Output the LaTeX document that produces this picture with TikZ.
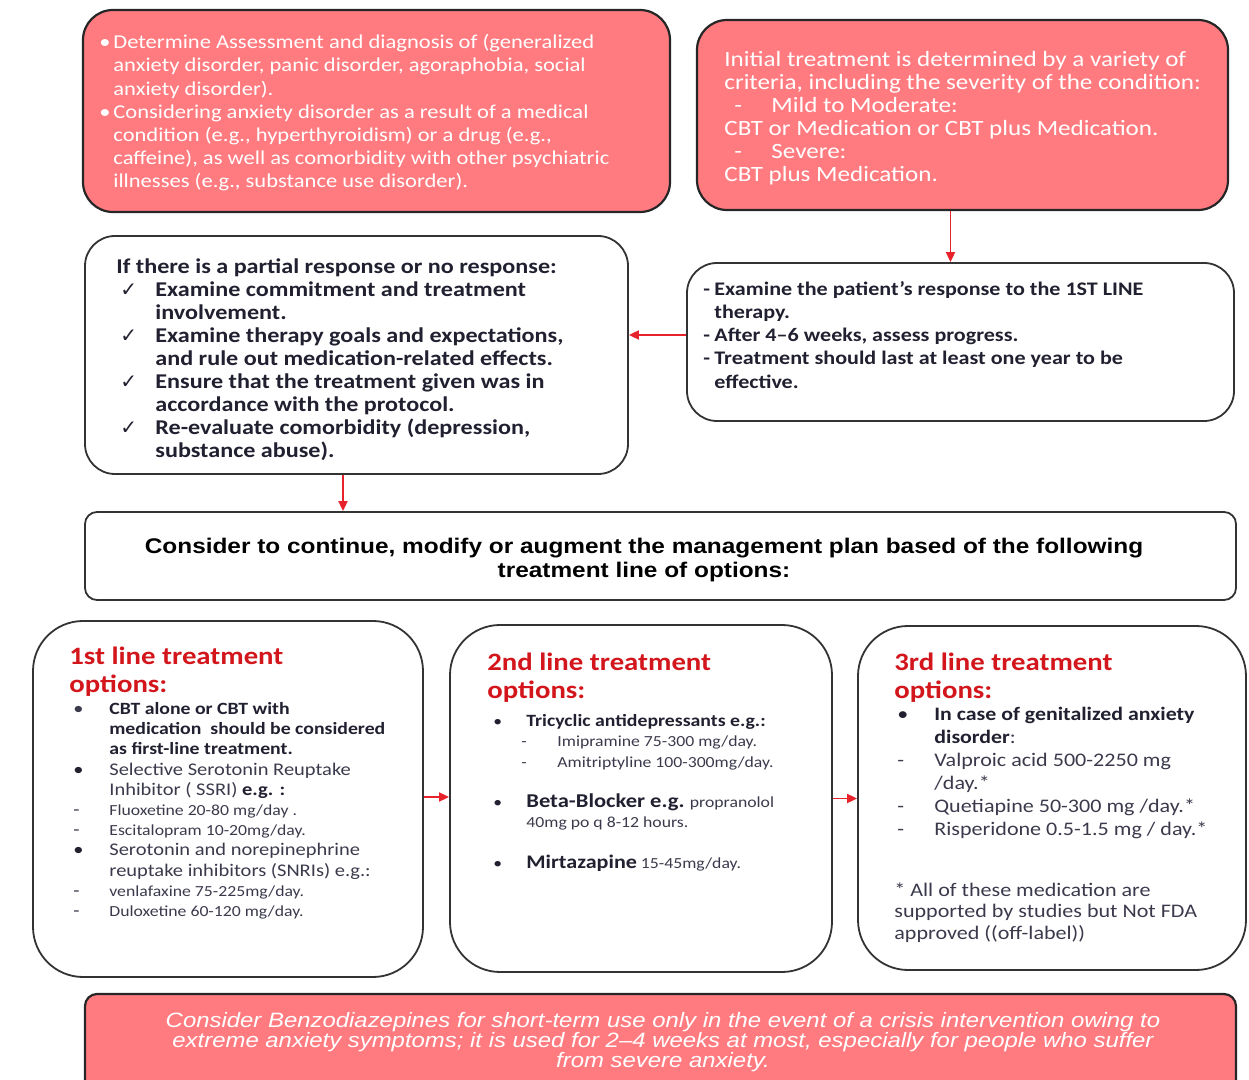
\documentclass[tikz,border=0pt]{standalone}
\usepackage{fontspec}
\setmainfont{Carlito}[FakeStretch=1.15]
\newfontfamily\arialfont{Liberation Sans}[FakeStretch=1.15]
\newfontfamily\symfont{DejaVu Sans}
\usetikzlibrary{positioning,arrows.meta,calc,fit}

\definecolor{salmon}{HTML}{FF7B80}
\definecolor{arrowred}{HTML}{E8222A}
\definecolor{titlered}{HTML}{D2161C}
\definecolor{ink}{HTML}{202030}
\definecolor{body}{HTML}{3A3A4C}

\newcommand\setfs[2]{\fontsize{#1}{#2}\selectfont}
\newcommand\itemlead[2]{\makebox[#1][l]{#2}}
\newcommand\chk{{\symfont\setfs{10}{11.5}✓}}

\begin{document}
\begin{tikzpicture}[x=0.5pt, y=-0.5pt,
    font=\setfs{10}{11.6},
    box/.style={draw=black!80, line width=0.9pt, inner sep=0pt, rounded corners=15pt},
    redbox/.style={box, fill=salmon, draw=black!85, line width=1.1pt},
    optbox/.style={box, rounded corners=25pt},
    arr/.style={draw=arrowred, line width=0.9pt, -{Triangle[length=5pt, width=4.5pt]}},
    txt/.style={anchor=north west, inner sep=0pt, align=left},
    head/.style={txt, font=\setfs{12.5}{14}\bfseries, text=titlered},
  ]
  \useasboundingbox (0,0) rectangle (1249,1080);

  % frames
  \node[redbox, fit={(83,10) (670,212)}] (assess) {};
  \node[redbox, fit={(697,20) (1228,210)}] (initial) {};
  \node[box, fit={(85,236) (628,474)}] (partial) {};
  \node[box, fit={(687,263) (1234,421)}] (response) {};
  \node[box, rounded corners=6pt, fit={(85,512) (1236,600)}] (plan) {};
  \node[optbox, fit={(33,621) (423,977)}] (first) {};
  \node[optbox, fit={(450,625) (832,972)}] (second) {};
  \node[optbox, fit={(858,626) (1246,970)}] (third) {};
  \node[redbox, rounded corners=6pt, fit={(85,994) (1236,1100)}] (benzo) {};

  % connectors
  \draw[arr] ([xshift=-6pt]initial.south) -- ([xshift=-6pt]initial.south |- response.north);
  \draw[arr] ([yshift=3.5pt]response.west) -- ([yshift=3.5pt]response.west -| partial.east);
  \draw[arr] ([xshift=-6.75pt]partial.south) -- ([xshift=-6.75pt]partial.south |- plan.north);
  \draw[arr] ([yshift=1pt]first.east) -- ([yshift=1pt]first.east -| second.west);
  \draw[arr] (second.east) -- (second.east -| third.west);

  % top row
  \node[txt, text=white, font=\setfs{9.8}{11.6}] (assessText) at (99,34)
    {\itemlead{7pt}{•}Determine Assessment and diagnosis of (generalized\\
     \hspace*{7pt}anxiety disorder, panic disorder, agoraphobia, social\\
     \hspace*{7pt}anxiety disorder).\\
     \itemlead{7pt}{•}Considering anxiety disorder as a result of a medical\\
     \hspace*{7pt}condition (e.g., hyperthyroidism) or a drug (e.g.,\\
     \hspace*{7pt}caffeine), as well as comorbidity with other psychiatric\\
     \hspace*{7pt}illnesses (e.g., substance use disorder).};
  \node[txt, text=white, font=\setfs{10.9}{11.45}] (initialText) at (724,51)
    {Initial treatment is determined by a variety of\\
     criteria, including the severity of the condition:\\
     \hspace*{5pt}\itemlead{18.5pt}{-}Mild to Moderate:\\
     CBT or Medication or CBT plus Medication.\\
     \hspace*{5pt}\itemlead{18.5pt}{-}Severe:\\
     CBT plus Medication.};

  % middle row
  \node[txt, text=ink, font=\setfs{10.5}{11.5}\bfseries] (partialText) at (116,258)
    {If there is a partial response or no response:\\
     \hspace*{2pt}\itemlead{17.5pt}{\chk}Examine commitment and treatment\\
     \hspace*{19.5pt}involvement.\\
     \hspace*{2pt}\itemlead{17.5pt}{\chk}Examine therapy goals and expectations,\\
     \hspace*{19.5pt}and rule out medication-related effects.\\
     \hspace*{2pt}\itemlead{17.5pt}{\chk}Ensure that the treatment given was in\\
     \hspace*{19.5pt}accordance with the protocol.\\
     \hspace*{2pt}\itemlead{17.5pt}{\chk}Re-evaluate comorbidity (depression,\\
     \hspace*{19.5pt}substance abuse).};
  \node[txt, text=ink, font=\setfs{9.6}{11.6}\bfseries] (responseText) at (703,281)
    {\itemlead{5.5pt}{-}Examine the patient’s response to the 1ST LINE\\
     \hspace*{5.5pt}therapy.\\
     \itemlead{5.5pt}{-}After 4–6 weeks, assess progress.\\
     \itemlead{5.5pt}{-}Treatment should last at least one year to be\\
     \hspace*{5.5pt}effective.};

  \node[align=center, inner sep=0pt, font=\arialfont\bfseries\setfs{10.6}{12}] (planText) at (644,560)
    {Consider to continue, modify or augment the management plan based of the following\\
     treatment line of options:};

  % treatment lines
  \node[head] (firstHead) at (69,647) {1st line treatment\\ options:};
  \node[head] (secondHead) at (487,653) {2nd line treatment\\ options:};
  \node[head] (thirdHead) at (894,653) {3rd line treatment\\ options:};

  \node[txt, text=body, font=\setfs{8.9}{10.1}] (firstText) at (73,702)
    {\itemlead{18pt}{•}{\color{ink}\bfseries\setfs{8.6}{10.1}CBT alone or CBT with}\\
     \hspace*{18pt}{\color{ink}\bfseries\setfs{8.6}{10.1}medication\ \ should be considered}\\
     \hspace*{18pt}{\color{ink}\bfseries\setfs{8.6}{10.1}as first-line treatment.}\\
     \itemlead{18pt}{\color{ink}•}Selective Serotonin Reuptake\\
     \hspace*{18pt}Inhibitor ( SSRI) {\color{ink}\bfseries e.g. :}\\
     \itemlead{18pt}{-}{\setfs{7.7}{10.1}Fluoxetine 20-80 mg/day .}\\
     \itemlead{18pt}{-}{\setfs{7.7}{10.1}Escitalopram 10-20mg/day.}\\
     \itemlead{18pt}{\color{ink}•}Serotonin and norepinephrine\\
     \hspace*{18pt}reuptake inhibitors (SNRIs) e.g.:\\
     \itemlead{18pt}{-}{\setfs{7.7}{10.1}venlafaxine 75-225mg/day.}\\
     \itemlead{18pt}{-}{\setfs{7.7}{10.1}Duloxetine 60-120 mg/day.}};

  \node[txt, text=body, font=\setfs{7.7}{10.15}] (secondText) at (493,714)
    {\itemlead{16.5pt}{\color{ink}•}{\color{ink}\bfseries\setfs{8.6}{10.15}Tricyclic antidepressants e.g.:}\\
     \hspace*{14pt}\itemlead{18pt}{-}Imipramine 75-300 mg/day.\\
     \hspace*{14pt}\itemlead{18pt}{-}Amitriptyline 100-300mg/day.\\[10.15pt]
     \itemlead{16.5pt}{\color{ink}•}{\color{ink}\bfseries\setfs{9.8}{10.15}Beta-Blocker e.g.} propranolol\\
     \hspace*{16.5pt}40mg po q 8-12 hours.\\[10.15pt]
     \itemlead{16.5pt}{\color{ink}•}{\color{ink}\bfseries\setfs{9.6}{10.15}Mirtazapine} 15-45mg/day.};

  \node[txt, text=body, font=\setfs{9.6}{11.5}] (thirdText) at (897,707)
    {\itemlead{18.5pt}{\color{ink}•}{\color{ink}\bfseries\setfs{9.5}{11.5}In case of genitalized anxiety}\\
     \hspace*{18.5pt}{\color{ink}\bfseries\setfs{9.5}{11.5}disorder}:\\
     \itemlead{18.5pt}{-}Valproic acid 500-2250 mg\\
     \hspace*{18.5pt}/day.*\\
     \itemlead{18.5pt}{-}Quetiapine 50-300 mg /day.*\\
     \itemlead{18.5pt}{-}Risperidone 0.5-1.5 mg / day.*};
  \node[txt, text=body, font=\setfs{9.6}{10.75}] (thirdNote) at (894,882)
    {* All of these medication are\\
     supported by studies but Not FDA\\
     approved ((off-label))};

  % bottom banner
  \node[align=center, inner sep=0pt, text=white, font=\arialfont\itshape\setfs{10.4}{10}] (benzoText) at (663,1042)
    {Consider Benzodiazepines for short-term use only in the event of a crisis intervention owing to\\
     extreme anxiety symptoms; it is used for 2–4 weeks at most, especially for people who suffer\\
     from severe anxiety.};
\end{tikzpicture}
\end{document}
